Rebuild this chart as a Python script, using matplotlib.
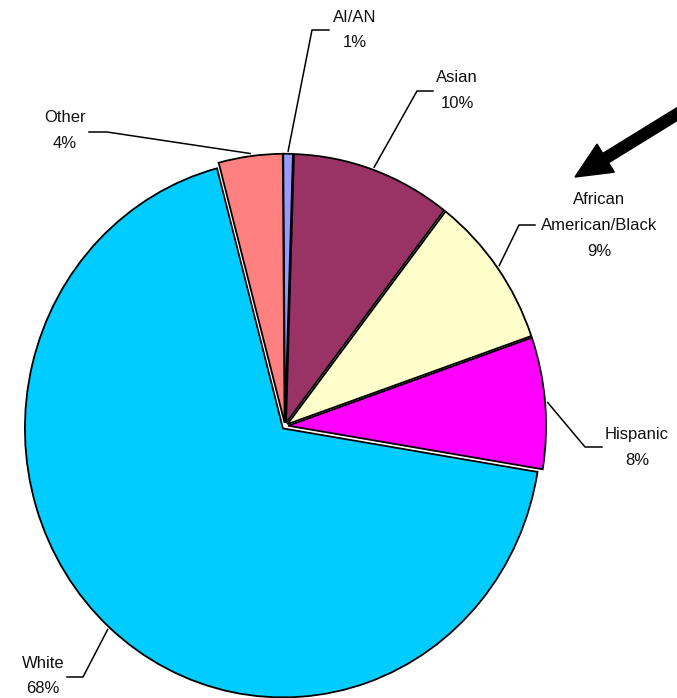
import numpy as np
import matplotlib
matplotlib.use("Agg")
import matplotlib.pyplot as plt
from matplotlib.patches import FancyArrow

categories = ["AI/AN", "Asian", "African\nAmerican/Black", "Hispanic", "White", "Other"]
shares = [0.6, 10.0, 9.2, 7.9, 68.3, 4.0]
colors = ["#9999FF", "#993366", "#FFFFCC", "#FF00FF", "#00CCFF", "#FF8080"]

W, H = 677, 698
fig = plt.figure(figsize=(W / 100, H / 100), dpi=100)
plt.rcParams["font.family"] = ["Liberation Sans", "DejaVu Sans"]

# pie geometry in pixels (top-left origin)
cx, cy, rx, ry = 285, 426, 258, 269

ax = fig.add_axes([0, 0, 1, 1])
wedges, _ = ax.pie(shares, colors=colors, startangle=90.4, counterclock=False,
                   explode=[0.012] * len(shares),
                   wedgeprops=dict(edgecolor="black", linewidth=1.3))
ax.set_aspect("auto")
ax.set_xlim(-cx / rx, (W - cx) / rx)
ax.set_ylim(-(H - cy) / ry, cy / ry)
ax.axis("off")

ov = fig.add_axes([0, 0, 1, 1])
ov.set_xlim(0, W)
ov.set_ylim(H, 0)
ov.axis("off")
ov.patch.set_alpha(0)

# label layout: elbow point, end of horizontal segment, first text line centre
layout = [
    ((312, 30), (329, 30), (355, 17)),
    ((417, 91), (433, 91), (457, 78)),
    ((519, 225), (535, 225), (599, 200)),
    ((585, 447), (602, 447), (637, 435)),
    ((83, 677), (67, 677), (43, 663)),
    ((107, 132), (89, 132), (65, 118)),
]

for w, cat, v, (elb, end, tpos) in zip(wedges, categories, shares, layout):
    mid = np.deg2rad((w.theta1 + w.theta2) / 2)
    x0 = w.center[0] + w.r * 1.01 * np.cos(mid)
    y0 = w.center[1] + w.r * 1.01 * np.sin(mid)
    px, py = cx + rx * x0, cy - ry * y0
    ov.plot([px, elb[0], end[0]], [py, elb[1], end[1]], color="black", lw=1.1)
    lines = cat.split("\n") + [f"{int(v + 0.5)}%"]
    step = 25.5
    for i, ln in enumerate(lines):
        ov.text(tpos[0], tpos[1] + i * step, ln, ha="center", va="center",
                fontsize=12, color="#111111")

arrow = FancyArrow(700, 100, 575 - 700, 177 - 100, width=11, head_width=33,
                   head_length=36, length_includes_head=True, color="black")
arrow.set_clip_on(False)
ov.add_patch(arrow)

fig.savefig("out.png", dpi=100)
